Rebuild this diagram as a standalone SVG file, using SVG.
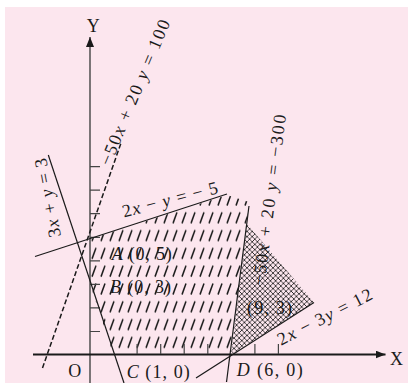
<svg xmlns="http://www.w3.org/2000/svg" width="408" height="383" viewBox="0 0 408 383">
<defs>
<style>
.ln{stroke:#1a1a1a;stroke-width:1.2;fill:none}
.dash{stroke:#1a1a1a;stroke-width:1.5;fill:none;stroke-dasharray:5 2.5}
.t{font-family:"Liberation Serif","Times New Roman",serif;font-size:18px;fill:#1a1a1a}
.i{font-style:italic}
</style>
<pattern id="h1" patternUnits="userSpaceOnUse" x="0" y="16" width="9" height="17.8">
<line x1="2" y1="11.5" x2="6" y2="0.5" stroke="#1a1a1a" stroke-width="1.5"/>
</pattern>
<pattern id="h2" patternUnits="userSpaceOnUse" width="5.2" height="5.2">
<path d="M0,0 L5.2,5.2 M5.2,0 L0,5.2" stroke="#1a1a1a" stroke-width="0.8"/>
</pattern>
<marker id="arr" viewBox="0 0 10 8" refX="10" refY="4" markerWidth="10" markerHeight="8" markerUnits="userSpaceOnUse" orient="auto">
<path d="M0,0 L10,4 L0,8 Z" fill="#1a1a1a"/>
</marker>
</defs>
<rect x="0" y="0" width="408" height="383" fill="#ffffff"/>
<rect x="5" y="7" width="403" height="376" fill="#fce6ee"/>

<g id="regions">
<polygon points="90,239 227,195 249,202 231,355 113.5,355 90,284" fill="url(#h1)"/>
<polygon points="247,224 314,302.5 231,355" fill="url(#h2)"/>
</g>

<g id="axes">
<line x1="90" y1="383" x2="90" y2="37" stroke="#444" stroke-width="1.4" marker-end="url(#arr)"/>
<line x1="33" y1="354.5" x2="385.5" y2="354.5" stroke="#1a1a1a" stroke-width="2" marker-end="url(#arr)"/>
<path d="M90,331.5h10M90,307.9h10M90,284.4h10M90,260.8h10M90,237.3h10M90,213.7h10M90,190.2h10M90,166.6h10" stroke="#444" stroke-width="1.2"/>
<path d="M137.1,354v-10M160.7,354v-10M184.2,354v-10M207.8,354v-10M254.9,354v-10M278.4,354v-10" stroke="#444" stroke-width="1.2"/>
</g>

<g id="connectors">
<line class="ln" x1="48.3" y1="155" x2="124" y2="383"/>
<line class="dash" x1="42.5" y1="368" x2="121" y2="143"/>
<line class="ln" x1="35" y1="256.5" x2="227" y2="194"/>
<line class="ln" x1="226.5" y1="382" x2="249" y2="206"/>
<line class="ln" x1="196" y1="378" x2="314" y2="302.5"/>
</g>

<g id="labels">
<text class="t" transform="translate(61,236) rotate(-100.7)" textLength="80" lengthAdjust="spacing">3<tspan class="i">x</tspan> + <tspan class="i">y</tspan> = 3</text>
<text class="t" text-anchor="middle" transform="translate(140.3,94.7) rotate(-67.3)" textLength="156" lengthAdjust="spacing">−50<tspan class="i">x</tspan> + 20 <tspan class="i">y</tspan> = 100</text>
<text class="t" transform="translate(124,217.5) rotate(-14.5)" textLength="98" lengthAdjust="spacing">2<tspan class="i">x</tspan> − <tspan class="i">y</tspan> = − 5</text>
<text class="t" text-anchor="middle" transform="translate(275.2,200.7) rotate(-82.7)" textLength="172" lengthAdjust="spacing">−50<tspan class="i">x</tspan> + 20 <tspan class="i">y</tspan> = −300</text>
<text class="t" text-anchor="middle" transform="translate(327.4,322.1) rotate(-27)" textLength="104" lengthAdjust="spacing">2<tspan class="i">x</tspan> − 3<tspan class="i">y</tspan> = 12</text>
<text class="t" x="247" y="313.5" textLength="45" lengthAdjust="spacing">(9, 3)</text>
<text class="t" x="111.7" y="260" textLength="60" lengthAdjust="spacing"><tspan class="i">A</tspan> (0, 5)</text>
<text class="t" x="110" y="293" textLength="61" lengthAdjust="spacing"><tspan class="i">B</tspan> (0, 3)</text>
<text class="t" x="126.7" y="377.5" textLength="63" lengthAdjust="spacing"><tspan class="i">C</tspan> (1, 0)</text>
<text class="t" x="236.7" y="375.5" textLength="66" lengthAdjust="spacing"><tspan class="i">D</tspan> (6, 0)</text>
<text class="t" x="68.3" y="377">O</text>
<text class="t" x="390" y="365">X</text>
<text class="t" x="86.7" y="31.7">Y</text>
</g>
</svg>
